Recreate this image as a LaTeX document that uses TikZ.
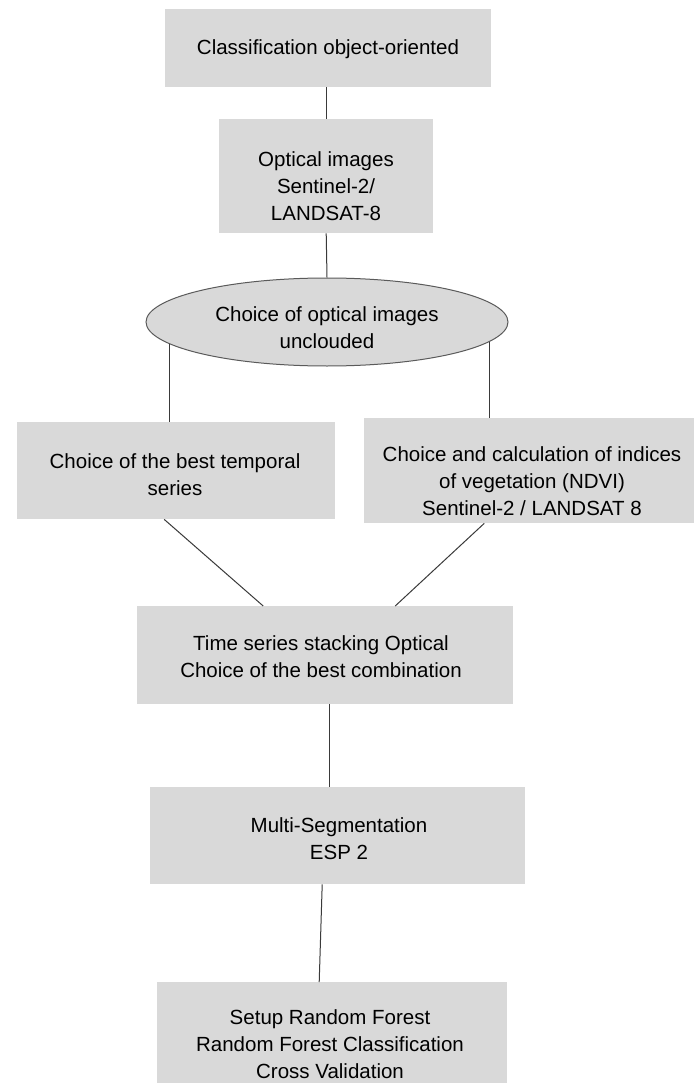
\documentclass[tikz,border=0pt]{standalone}
\usepackage{fontspec}
\setmainfont{Liberation Sans}
\usetikzlibrary{shapes.geometric,calc}
\definecolor{boxgray}{HTML}{D9D9D9}
\definecolor{linegray}{HTML}{3A3A3A}
\definecolor{ellline}{HTML}{5A5A5A}
\tikzset{
  box/.style={rectangle, fill=boxgray, draw=none, inner sep=0pt, anchor=north west},
  txt/.style={align=center, inner sep=0pt, font=\fontsize{20.5pt}{27pt}\selectfont, text=black},
  conn/.style={draw=linegray, line width=1pt},
}
\begin{document}
\begin{tikzpicture}[x=1pt, y=-1pt]
\useasboundingbox (0,0) rectangle (694,1083);
\fill[white] (0,0) rectangle (694,1083);
% boxes
\node[box, minimum width=326pt, minimum height=78pt] (b1) at (165,9) {};
\node[box, minimum width=214pt, minimum height=114pt] (b2) at (219,119) {};
\node[ellipse, fill=boxgray, draw=ellline, line width=1pt, minimum width=362pt, minimum height=88pt, inner sep=0pt] (ell) at (327,322) {};
\node[box, minimum width=318pt, minimum height=97pt] (lb) at (17,422) {};
\node[box, minimum width=330pt, minimum height=105pt] (rb) at (364,418) {};
\node[box, minimum width=376pt, minimum height=98pt] (mb) at (137,606) {};
\node[box, minimum width=375pt, minimum height=97pt] (ms) at (150,787) {};
\node[box, minimum width=350pt, minimum height=101pt] (rf) at (157,982) {};
% texts
\node[txt] (t1) at (328,49) {Classification object-oriented};
\node[txt] (t2) at (326,186) {Optical images\\Sentinel-2/\\LANDSAT-8};
\node[txt] (t3) at (327,328) {Choice of optical images\\unclouded};
\node[txt] (t4) at (175,475) {Choice of the best temporal\\series};
\node[txt] (t5) at (532,481) {Choice and calculation of indices\\of vegetation (NDVI)\\Sentinel-2 / LANDSAT 8};
\node[txt] (t6) at (321,657) {Time series stacking Optical\\Choice of the best combination};
\node[txt] (t7) at (339,839) {Multi-Segmentation\\ESP 2};
\node[txt] (t8) at (330,1044) {Setup Random Forest\\Random Forest Classification\\Cross Validation};
% connectors
\draw[conn] (b1.south -| b2.north) -- (b2.north);
\draw[conn] (b2.south) -- (ell.north);
\draw[conn] (ell.188.5) -- (ell.188.5 |- lb.north);
\draw[conn] (ell.353.8) -- (ell.353.8 |- rb.north);
\draw[conn] ([xshift=-12pt]lb.south) -- ([xshift=-62pt]mb.north);
\draw[conn] ([xshift=-45pt]rb.south) -- ([xshift=70pt]mb.north);
\draw[conn] ([xshift=4pt]mb.south) -- ([xshift=4pt]mb.south |- ms.north);
\draw[conn] ([xshift=-15.5pt]ms.south) -- ([xshift=-13pt]rf.north);
\end{tikzpicture}
\end{document}
